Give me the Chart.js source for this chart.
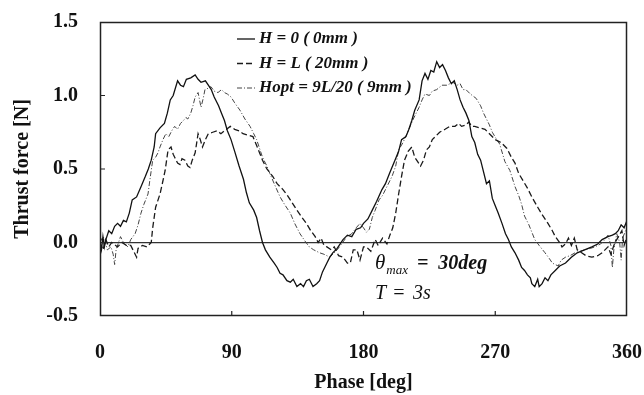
<!DOCTYPE html>
<html>
<head>
<meta charset="utf-8">
<script src="https://cdn.jsdelivr.net/npm/chart.js@4.4.1/dist/chart.umd.min.js"></script>
<style>
  html, body { margin: 0; padding: 0; background: #fff; }
  #thrustChart { display: block; }
</style>
</head>
<body>
<canvas id="thrustChart" width="644" height="395"></canvas>
<script>
// Thrust force over one stroke cycle, three fin heights
const seriesLabels = ["H = 0 ( 0mm )", "H = L ( 20mm )", "Hopt = 9L/20 ( 9mm )"];

const phaseH0 = [0, 1, 2, 3, 4, 6, 8, 10, 12, 14, 16, 18, 20, 22, 25, 28, 31, 33, 35, 37, 38, 41, 44, 46, 48, 50,
  53, 55, 57, 59, 62, 65, 67, 69, 72, 74, 76, 78, 81, 83, 85, 87, 89.5, 92, 95, 98, 100, 102, 105, 107, 109, 111,
  113, 116, 119, 121, 123, 125, 127.7, 130, 132, 134.5, 137, 139, 141, 143, 145.5, 148, 150, 152, 155, 157, 159,
  162, 166, 169, 172, 175, 178, 180, 183, 186, 189, 192.6, 195, 197, 199, 201.5, 204, 206, 209, 211, 213, 215, 218,
  220, 222, 224, 226, 228, 230, 232, 234, 236, 238, 240, 242, 244, 246, 248, 250, 252, 254, 256, 258, 260, 262, 264,
  266, 268, 270, 272, 274.6, 277, 279, 281, 283.5, 286, 288, 290, 292, 294, 295, 297, 299, 300, 302, 304, 306, 308,
  311, 314, 318, 322, 326, 331, 336, 340, 343, 347, 350, 352, 354, 356, 358, 360];
const thrustH0 = [0.0, -0.05, 0.04, -0.03, 0.02, 0.08, 0.06, 0.11, 0.13, 0.11, 0.15, 0.14, 0.2, 0.29, 0.31, 0.38,
  0.45, 0.5, 0.56, 0.65, 0.74, 0.78, 0.81, 0.88, 0.97, 1.0, 1.1, 1.07, 1.06, 1.11, 1.12, 1.14, 1.11, 1.09, 1.1, 1.07,
  1.04, 0.99, 0.93, 0.88, 0.83, 0.76, 0.7, 0.62, 0.52, 0.43, 0.34, 0.27, 0.22, 0.17, 0.08, 0.0, -0.05, -0.1, -0.14,
  -0.17, -0.21, -0.22, -0.26, -0.27, -0.25, -0.3, -0.28, -0.3, -0.26, -0.25, -0.3, -0.28, -0.26, -0.2, -0.14, -0.1,
  -0.07, -0.04, 0.02, 0.05, 0.04, 0.09, 0.1, 0.13, 0.16, 0.22, 0.28, 0.36, 0.4, 0.45, 0.5, 0.56, 0.62, 0.7, 0.72,
  0.77, 0.83, 0.9, 0.97, 1.1, 1.15, 1.11, 1.17, 1.16, 1.23, 1.19, 1.21, 1.17, 1.12, 1.08, 1.1, 1.04, 0.97, 0.92,
  0.88, 0.83, 0.72, 0.68, 0.6, 0.56, 0.48, 0.4, 0.42, 0.3, 0.25, 0.2, 0.13, 0.06, 0.02, -0.03, -0.07, -0.12, -0.17,
  -0.19, -0.22, -0.24, -0.28, -0.3, -0.25, -0.3, -0.28, -0.24, -0.26, -0.22, -0.19, -0.16, -0.14, -0.1, -0.07,
  -0.05, -0.03, -0.01, 0.02, 0.04, 0.05, 0.06, 0.08, 0.12, 0.1, 0.15];

const phaseHL = [0, 2, 4, 6, 8, 12, 15, 18, 21, 24, 25, 26, 29, 32, 35, 36, 38, 40, 41, 43, 44.5, 46.5, 48.5, 50,
  51, 53, 54.6, 56, 58, 60, 61.5, 63, 65, 67, 68.5, 70, 72, 74, 77, 80, 82.6, 85, 89, 92, 95, 97.7, 101, 104.5, 107,
  111, 114, 118, 121, 125, 128, 130, 134.5, 138, 141, 144, 147, 149, 151, 153, 155, 158, 160, 163, 166, 169, 171,
  173, 175.5, 177.6, 180, 182, 185, 188, 190, 193, 196, 198, 200, 202, 204, 206, 208, 210.5, 213, 215, 217, 219,
  221, 223, 225, 227, 229, 232, 235.7, 239, 242.5, 245, 247, 250, 252, 254, 256, 259, 263, 266, 270, 274, 278, 281,
  283.5, 286, 289, 292, 295, 299, 302, 306, 309, 311, 314, 315.6, 318, 320, 322, 324, 326, 329, 332, 336, 340, 343,
  347, 349, 351, 353, 356.5, 358, 360];
const thrustHL = [0.0, -0.05, 0.02, -0.03, 0.0, -0.03, 0.0, -0.02, -0.02, -0.08, -0.1, -0.04, -0.02, -0.03, 0.0,
  0.1, 0.24, 0.3, 0.33, 0.42, 0.49, 0.63, 0.65, 0.6, 0.58, 0.54, 0.53, 0.57, 0.56, 0.52, 0.51, 0.56, 0.61, 0.74,
  0.7, 0.65, 0.7, 0.74, 0.75, 0.76, 0.74, 0.76, 0.79, 0.77, 0.76, 0.74, 0.73, 0.72, 0.66, 0.56, 0.5, 0.45, 0.4,
  0.36, 0.32, 0.29, 0.22, 0.17, 0.13, 0.08, 0.04, 0.0, 0.03, -0.02, -0.03, -0.05, -0.03, -0.09, -0.1, -0.14, -0.14,
  -0.05, -0.05, -0.12, -0.03, -0.03, -0.06, 0.02, -0.02, 0.03, -0.01, 0.05, 0.1, 0.2, 0.33, 0.45, 0.56, 0.62, 0.65,
  0.58, 0.55, 0.52, 0.56, 0.63, 0.65, 0.7, 0.72, 0.75, 0.77, 0.79, 0.79, 0.81, 0.79, 0.8, 0.82, 0.79, 0.79, 0.78,
  0.77, 0.74, 0.7, 0.68, 0.64, 0.58, 0.54, 0.47, 0.42, 0.37, 0.31, 0.24, 0.19, 0.13, 0.08, 0.04, 0.0, -0.03, -0.01,
  0.03, -0.02, 0.03, -0.05, -0.07, -0.09, -0.1, -0.09, -0.07, -0.03, -0.08, -0.02, 0.02, 0.08, -0.02, 0.04];

const phaseHopt = [0, 2, 3.4, 5, 7.5, 9, 10, 11, 14, 16, 19, 21, 24, 26, 28, 30, 32.8, 34, 36, 38, 39.6, 41, 43, 45,
  47, 49, 51, 53, 55, 57, 58.7, 60, 62, 63.5, 65, 67, 69, 70.5, 71.7, 74, 75.8, 78, 80.6, 83, 85, 87, 89.5, 92,
  95.6, 99, 102.5, 105, 107, 109, 111, 114, 116, 119, 123, 126, 130, 133, 136.6, 140, 143, 146, 150, 153, 157, 160,
  162, 165, 168.7, 172, 175, 177.6, 180, 182, 184, 186, 188, 190.6, 193, 196, 199.5, 202, 204, 207, 211, 214, 216,
  218, 220, 222, 225, 227, 230, 233.6, 237, 241, 244, 246, 248, 250, 253, 257, 260, 262, 264, 266, 268, 271, 273,
  276.6, 280, 283.5, 286, 288, 290, 293, 297, 300, 304, 307, 309, 311, 313, 315, 318, 321, 324.5, 328, 331, 335,
  338, 342, 345, 347, 349, 350, 351, 353, 355, 356, 357, 359, 360];
const thrustHopt = [0.0, 0.04, 0.02, -0.05, -0.03, -0.08, -0.15, -0.05, 0.04, 0.0, -0.03, 0.02, 0.06, 0.12, 0.2,
  0.26, 0.33, 0.42, 0.56, 0.58, 0.61, 0.65, 0.7, 0.74, 0.72, 0.76, 0.79, 0.77, 0.81, 0.83, 0.85, 0.84, 0.88, 0.93,
  0.99, 1.02, 0.92, 0.98, 1.04, 1.05, 1.06, 1.03, 1.02, 1.04, 1.02, 1.01, 0.99, 0.95, 0.9, 0.84, 0.79, 0.74, 0.7,
  0.64, 0.58, 0.52, 0.47, 0.4, 0.31, 0.26, 0.2, 0.13, 0.06, 0.01, -0.03, -0.05, -0.07, -0.08, -0.1, -0.07, -0.05,
  -0.01, 0.04, 0.06, 0.1, 0.13, 0.1, 0.07, 0.09, 0.17, 0.22, 0.29, 0.32, 0.38, 0.45, 0.52, 0.63, 0.68, 0.77, 0.84,
  0.88, 0.92, 0.97, 1.01, 1.0, 1.03, 1.04, 1.07, 1.07, 1.09, 1.07, 1.08, 1.04, 1.04, 1.01, 0.98, 0.93, 0.88, 0.84,
  0.8, 0.75, 0.7, 0.67, 0.55, 0.49, 0.38, 0.32, 0.26, 0.18, 0.12, 0.02, -0.02, -0.07, -0.11, -0.14, -0.15, -0.16,
  -0.12, -0.1, -0.09, -0.07, -0.06, -0.05, -0.04, -0.03, -0.01, 0.02, 0.05, -0.02, -0.17, -0.05, 0.06, 0.0, -0.12,
  0.03, 0.08, 0.05];

const xTicks = [0, 90, 180, 270, 360];
const yTicks = [-0.5, 0.0, 0.5, 1.0, 1.5];

const serif = "'Liberation Serif', 'Times New Roman', serif";

function toPoints(xs, ys) {
    return xs.map((x, i) => ({ x: x, y: ys[i] }));
}

// box round the plot, short inward tick marks, legend and the run conditions
const decorations = {
    id: "decorations",
    afterDatasetsDraw(chart) {
        const { ctx, chartArea: area, scales } = chart;
        ctx.save();
        ctx.strokeStyle = "#222";
        ctx.lineWidth = 1.5;
        ctx.strokeRect(area.left + 0.5, area.top + 0.5, area.right - area.left - 1, area.bottom - area.top - 1);

        ctx.lineWidth = 1.2;
        ctx.beginPath();
        xTicks.slice(1, -1).forEach(v => {
            const px = scales.x.getPixelForValue(v);
            ctx.moveTo(px, area.bottom);
            ctx.lineTo(px, area.bottom - 5);
        });
        yTicks.slice(1, -1).forEach(v => {
            const py = scales.y.getPixelForValue(v);
            ctx.moveTo(area.left, py);
            ctx.lineTo(area.left + 5, py);
        });
        ctx.stroke();

        // legend
        ctx.font = "italic bold 17px " + serif;
        ctx.textBaseline = "middle";
        ctx.fillStyle = "#111";
        chart.data.datasets.forEach((ds, i) => {
            const y = 39 + i * 24.5;
            ctx.beginPath();
            ctx.setLineDash(ds.borderDash || []);
            ctx.strokeStyle = ds.borderColor;
            ctx.lineWidth = ds.borderWidth;
            ctx.moveTo(237, y);
            ctx.lineTo(255, y);
            ctx.stroke();
            ctx.setLineDash([]);
            ctx.fillText(ds.label, 259, y);
        });

        // run conditions
        ctx.textBaseline = "alphabetic";
        let x = 375;
        ctx.font = "italic 21px " + serif;
        ctx.fillText("\u03B8", x, 269);
        x += ctx.measureText("\u03B8").width + 1;
        ctx.font = "italic 13px " + serif;
        ctx.fillText("max", x, 274);
        x += ctx.measureText("max").width + 9;
        ctx.font = "italic bold 20px " + serif;
        ctx.fillText("=  30deg", x, 269);

        ctx.font = "italic 20px " + serif;
        ctx.fillText("T", 375, 299);
        ctx.fillText("=", 392, 299);
        ctx.fillText("3s", 413, 299);
        ctx.restore();
    }
};

new Chart(document.getElementById("thrustChart"), {
    type: "line",
    data: {
        datasets: [
            {
                label: seriesLabels[0],
                data: toPoints(phaseH0, thrustH0),
                borderColor: "#111",
                borderWidth: 1.3
            },
            {
                label: seriesLabels[1],
                data: toPoints(phaseHL, thrustHL),
                borderColor: "#1a1a1a",
                borderWidth: 1.3,
                borderDash: [6, 3]
            },
            {
                label: seriesLabels[2],
                data: toPoints(phaseHopt, thrustHopt),
                borderColor: "#444",
                borderWidth: 1,
                borderDash: [5, 2, 1, 2]
            }
        ]
    },
    options: {
        responsive: false,
        animation: false,
        elements: { point: { radius: 0 }, line: { tension: 0, fill: false } },
        layout: { padding: { top: 22, right: 17, left: 0, bottom: 0 } },
        plugins: { legend: { display: false }, tooltip: { enabled: false } },
        scales: {
            x: {
                type: "linear",
                min: 0,
                max: 360,
                afterBuildTicks: s => { s.ticks = xTicks.map(v => ({ value: v })); },
                afterFit: s => { s.height = 79; s.paddingLeft = 0; s.paddingRight = 0; },
                grid: { display: false },
                border: { display: false },
                ticks: { padding: 17, color: "#111", font: { family: serif, size: 20, weight: "bold" } },
                title: {
                    display: true,
                    text: "Phase [deg]",
                    color: "#111",
                    padding: { top: 0, bottom: 0 },
                    font: { family: serif, size: 20, weight: "bold" }
                }
            },
            y: {
                min: -0.5,
                max: 1.5,
                afterBuildTicks: s => { s.ticks = yTicks.map(v => ({ value: v })); },
                afterFit: s => { s.width = 100; s.paddingTop = 0; s.paddingBottom = 0; },
                // only the zero line is drawn across the plot
                grid: {
                    color: ctx => ctx.tick.value === 0 ? "#333" : "rgba(0,0,0,0)",
                    lineWidth: 1.3,
                    drawTicks: false
                },
                border: { display: false },
                ticks: {
                    padding: 22,
                    color: "#111",
                    font: { family: serif, size: 20, weight: "bold" },
                    callback: v => v.toFixed(1)
                },
                title: {
                    display: true,
                    text: "Thrust force [N]",
                    color: "#111",
                    padding: { top: 11, bottom: 0 },
                    font: { family: serif, size: 20, weight: "bold" }
                }
            }
        }
    },
    plugins: [decorations]
});
</script>
</body>
</html>
